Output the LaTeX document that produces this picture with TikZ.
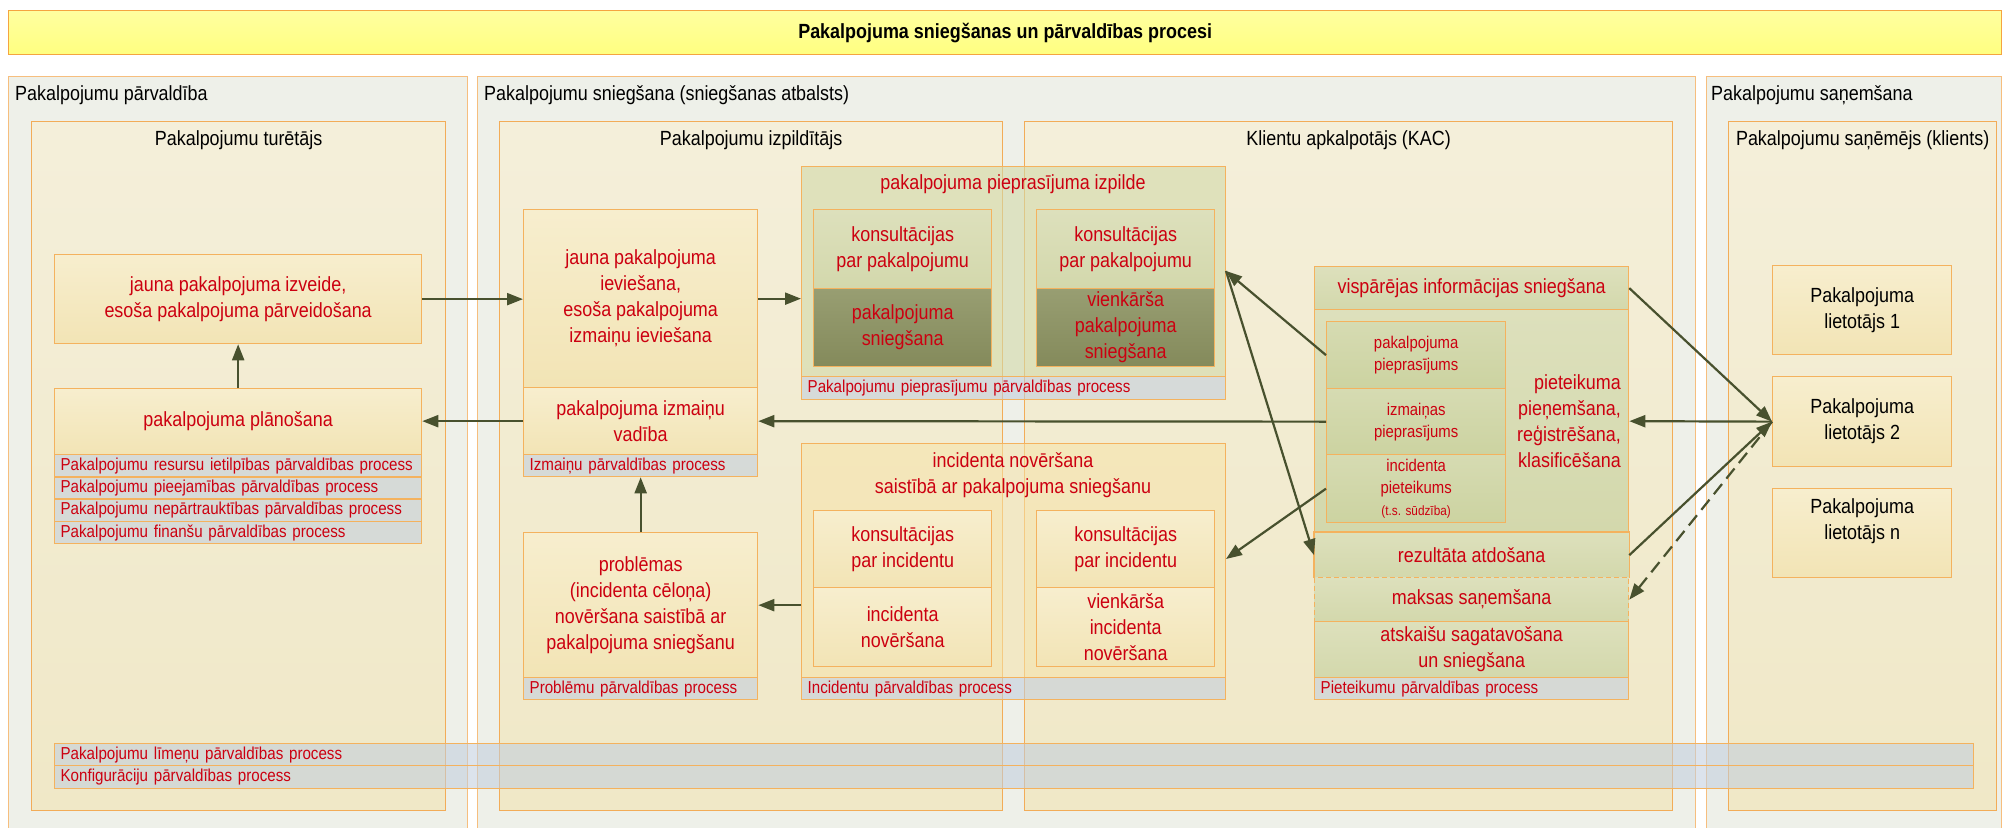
\documentclass[tikz,border=0pt]{standalone}
\usepackage{fontspec}
\setmainfont{Liberation Sans}[FakeStretch=0.875]
\usetikzlibrary{arrows.meta,calc}

% colours
\definecolor{panelfill}{HTML}{EEF0E9}
\definecolor{panelbd}{HTML}{F6BE7E}
\definecolor{roleTop}{HTML}{F4EFDA}
\definecolor{roleBot}{HTML}{F0E8C7}
\definecolor{rolebd}{HTML}{F2AC58}
\definecolor{yTop}{HTML}{F7EECE}
\definecolor{yBot}{HTML}{F2E4B5}
\definecolor{boxbd}{HTML}{F4B25E}
\definecolor{gTop}{HTML}{DDE0BC}
\definecolor{gBot}{HTML}{D3D8AC}
\definecolor{sTop}{HTML}{D6DBB2}
\definecolor{sBot}{HTML}{CCD3A1}
\definecolor{dTop}{HTML}{989E72}
\definecolor{dBot}{HTML}{848A5B}
\definecolor{gCont}{HTML}{D2D9A8}
\definecolor{yCont}{HTML}{F6E3A8}
\definecolor{rowFill}{HTML}{C2CEDE}
\definecolor{titleTop}{HTML}{FFFFA0}
\definecolor{titleBot}{HTML}{FFFF80}
\definecolor{titlebd}{HTML}{F5A540}
\definecolor{wirec}{HTML}{48512E}
\definecolor{txtred}{HTML}{CC0010}

% font sizes
\newcommand{\bodyfnt}{\fontsize{20.5}{26}\selectfont}
\newcommand{\rowfnt}{\fontsize{17.3}{20}\selectfont}
\newcommand{\subfnt}{\fontsize{17}{22}\selectfont}
\newcommand{\tinyfnt}{\fontsize{13.5}{16}\selectfont}
\newcommand{\titlefnt}{\fontsize{20.5}{24}\selectfont\bfseries}

\begin{document}
\begin{tikzpicture}[x=1pt,y=-1pt,
  base/.style={rectangle, anchor=north west, inner sep=0pt, align=center, line width=1.3pt},
  panel/.style={base, draw=panelbd, fill=panelfill, line width=1pt},
  role/.style={base, draw=rolebd, top color=roleTop, bottom color=roleBot},
  ybox/.style={base, draw=boxbd, top color=yTop, bottom color=yBot, text=txtred, font=\bodyfnt},
  gbox/.style={base, draw=boxbd, top color=gTop, bottom color=gBot, text=txtred, font=\bodyfnt},
  sbox/.style={base, draw=boxbd, top color=sTop, bottom color=sBot, text=txtred, font=\subfnt},
  dbox/.style={base, draw=boxbd, top color=dTop, bottom color=dBot, text=txtred, font=\bodyfnt},
  gcont/.style={base, draw=boxbd, fill=gCont, fill opacity=0.6, text opacity=1},
  ycont/.style={base, draw=boxbd, fill=yCont, fill opacity=0.55, text opacity=1},
  procrow/.style={base, draw=boxbd, fill=rowFill, fill opacity=0.57, text opacity=1,
    text=txtred, font=\rowfnt, align=left, inner xsep=6pt, minimum height=22pt},
  hdr/.style={font=\bodyfnt, text=black, inner sep=0pt},
  redtxt/.style={font=\bodyfnt, text=txtred, inner sep=0pt, align=center},
  wire/.style={draw=wirec, line width=2.2pt, -{Triangle[length=16pt,width=12pt]}},
  dashwire/.style={wire, dash pattern=on 13pt off 7pt}
]
\useasboundingbox (0,0) rectangle (2004,827);

% title bar
\node[base, draw=titlebd, top color=titleTop, bottom color=titleBot,
  minimum width=1993pt, minimum height=44pt, font=\titlefnt] (title) at (8,10)
  {Pakalpojuma sniegšanas un pārvaldības procesi};

% outer areas
\node[panel, minimum width=459pt, minimum height=770pt] (parv) at (8,76) {};
\node[panel, minimum width=1218pt, minimum height=770pt] (snieg) at (477,76) {};
\node[panel, minimum width=295pt, minimum height=770pt] (sanem) at (1706,76) {};
\node[hdr, anchor=west] (parvT) at (15,95) {Pakalpojumu pārvaldība};
\node[hdr, anchor=west] (sniegT) at (484,95) {Pakalpojumu sniegšana (sniegšanas atbalsts)};
\node[hdr, anchor=west] (sanemT) at (1711,95) {Pakalpojumu saņemšana};

% roles
\node[role, minimum width=414pt, minimum height=689pt] (tur) at (31,121) {};
\node[role, minimum width=503pt, minimum height=689pt] (izp) at (499,121) {};
\node[role, minimum width=648pt, minimum height=689pt] (kli) at (1024,121) {};
\node[role, minimum width=268pt, minimum height=689pt] (san) at (1728,121) {};
\node[hdr] (turT) at ($(tur.north)+(0,19)$) {Pakalpojumu turētājs};
\node[hdr] (izpT) at ($(izp.north)+(0,19)$) {Pakalpojumu izpildītājs};
\node[hdr] (kliT) at ($(kli.north)+(0,19)$) {Klientu apkalpotājs (KAC)};
\node[hdr] (sanT) at ($(san.north)+(0,19)$) {Pakalpojumu saņēmējs (klients)};

% service owner
\node[ybox, minimum width=367pt, minimum height=89pt] (izveide) at (54,254)
  {jauna pakalpojuma izveide,\\esoša pakalpojuma pārveidošana};
\node[ybox, minimum width=367pt, minimum height=66pt] (plan) at (54,388)
  {pakalpojuma plānošana};
\node[procrow, text width=355pt] (rowA) at (54,454) {\mbox{Pakalpojumu resursu ietilpības pārvaldības process}};
\node[procrow, text width=355pt] (rowB) at (54,476.3) {\mbox{Pakalpojumu pieejamības pārvaldības process}};
\node[procrow, text width=355pt] (rowC) at (54,498.6) {\mbox{Pakalpojumu nepārtrauktības pārvaldības process}};
\node[procrow, text width=355pt] (rowD) at (54,521) {\mbox{Pakalpojumu finanšu pārvaldības process}};

% service provider
\node[ybox, minimum width=234pt, minimum height=178pt] (iev) at (523,209)
  {jauna pakalpojuma\\ieviešana,\\esoša pakalpojuma\\izmaiņu ieviešana};
\node[ybox, minimum width=234pt, minimum height=67pt] (vad) at (523,387)
  {pakalpojuma izmaiņu\\vadība};
\node[procrow, text width=222pt] (vadRow) at (523,454) {\mbox{Izmaiņu pārvaldības process}};
\node[ybox, minimum width=234pt, minimum height=145pt] (probl) at (523,532)
  {problēmas\\(incidenta cēloņa)\\novēršana saistībā ar\\pakalpojuma sniegšanu};
\node[procrow, text width=222pt] (problRow) at (523,677) {\mbox{Problēmu pārvaldības process}};

% request fulfilment
\node[gcont, minimum width=424pt, minimum height=210pt] (izpilde) at (801,166) {};
\node[redtxt] (izpildeT) at (1013,184) {pakalpojuma pieprasījuma izpilde};
\node[procrow, text width=412pt, minimum height=23pt] (izpildeRow) at (801,376) {\mbox{Pakalpojumu pieprasījumu pārvaldības process}};
\node[gbox, minimum width=178pt, minimum height=79pt] (konsA) at (813,209) {konsultācijas\\par pakalpojumu};
\node[dbox, minimum width=178pt, minimum height=78pt] (sniegA) at (813,288) {pakalpojuma\\sniegšana};
\node[gbox, minimum width=178pt, minimum height=79pt] (konsB) at (1036,209) {konsultācijas\\par pakalpojumu};
\node[dbox, minimum width=178pt, minimum height=78pt] (sniegB) at (1036,288) {vienkārša\\pakalpojuma\\sniegšana};

% incident resolution
\node[ycont, minimum width=424pt, minimum height=234pt] (incid) at (801,443) {};
\node[redtxt] (incidT) at (1013,475) {incidenta novēršana\\saistībā ar pakalpojuma sniegšanu};
\node[procrow, text width=412pt] (incidRow) at (801,677) {\mbox{Incidentu pārvaldības process}};
\node[ybox, minimum width=178pt, minimum height=77pt] (konsC) at (813,510) {konsultācijas\\par incidentu};
\node[ybox, minimum width=178pt, minimum height=79pt] (novC) at (813,587) {incidenta\\novēršana};
\node[ybox, minimum width=178pt, minimum height=77pt] (konsD) at (1036,510) {konsultācijas\\par incidentu};
\node[ybox, minimum width=178pt, minimum height=79pt] (novD) at (1036,587) {vienkārša\\incidenta\\novēršana};

% customer service centre
\node[gbox, minimum width=314pt, minimum height=43pt] (vispar) at (1314,266) {vispārējas informācijas sniegšana};
\node[gbox, minimum width=314pt, minimum height=223pt] (piet) at (1314,309) {};
\node[redtxt, anchor=east, align=right] (pietT) at (1621,421) {pieteikuma\\pieņemšana,\\reģistrēšana,\\klasificēšana};
\node[sbox, minimum width=179pt, minimum height=67pt] (subA) at (1326,321) {pakalpojuma\\pieprasījums};
\node[sbox, minimum width=179pt, minimum height=66pt] (subB) at (1326,388) {izmaiņas\\pieprasījums};
\node[sbox, minimum width=179pt, minimum height=68pt] (subC) at (1326,454) {incidenta\\pieteikums\\{\tinyfnt(t.s. sūdzība)}};
\node[gbox, minimum width=314pt, minimum height=45pt, draw=none] (rez) at (1314,532) {rezultāta atdošana};
\draw[draw=boxbd, line width=1.3pt] (rez.south west) -- (rez.north west) -- (rez.north east) -- (rez.south east);
\node[gbox, minimum width=314pt, minimum height=44pt, dash pattern=on 5pt off 3pt] (maksas) at (1314,577) {maksas saņemšana};
\node[gbox, minimum width=314pt, minimum height=56pt] (atsk) at (1314,621) {atskaišu sagatavošana\\un sniegšana};
\node[procrow, text width=302pt] (atskRow) at (1314,677) {\mbox{Pieteikumu pārvaldības process}};

% service recipients
\node[ybox, text=black, minimum width=179pt, minimum height=89pt] (userA) at (1772,265) {Pakalpojuma\\lietotājs 1};
\node[ybox, text=black, minimum width=179pt, minimum height=90pt] (userB) at (1772,376) {Pakalpojuma\\lietotājs 2};
\node[ybox, text=black, minimum width=179pt, minimum height=89pt,
  label={[hdr, align=center, yshift=12pt]center:Pakalpojuma\\lietotājs n}] (userN) at (1772,488) {};

% cross-cutting processes
\node[procrow, text width=1907pt] (slaRow) at (54,743) {\mbox{Pakalpojumu līmeņu pārvaldības process}};
\node[procrow, text width=1907pt, minimum height=23pt] (cfgRow) at (54,765) {\mbox{Konfigurāciju pārvaldības process}};

% connectors
\coordinate (izpildeTip) at (1226,271);
\coordinate (incidTip) at (1226,559);
\draw[wire] (izveide.east) -- (izveide.east -| iev.west);
\draw[wire] (plan.north) -- (izveide.south);
\draw[wire] (iev.east) -- (iev.east -| izpilde.west);
\draw[wire] (subB.west) -- (vad.east);
\draw[wire] (vad.west) -- (vad.west -| plan.east);
\draw[wire] (probl.north) -- (vadRow.south);
\draw[wire] (probl.east -| incid.west) -- (probl.east);
\draw[wire] (subA.west) -- (izpildeTip);
\draw[wire] (izpildeTip) -- (rez.west);
\draw[wire] (subC.west) -- (incidTip);
\draw[wire] (vispar.east) -- (userB.west);
\draw[wire] (userB.west) -- (piet.east);
\draw[wire] (rez.east) -- (userB.west);
\draw[dashwire] (userB.west) -- (maksas.east);
\end{tikzpicture}
\end{document}
